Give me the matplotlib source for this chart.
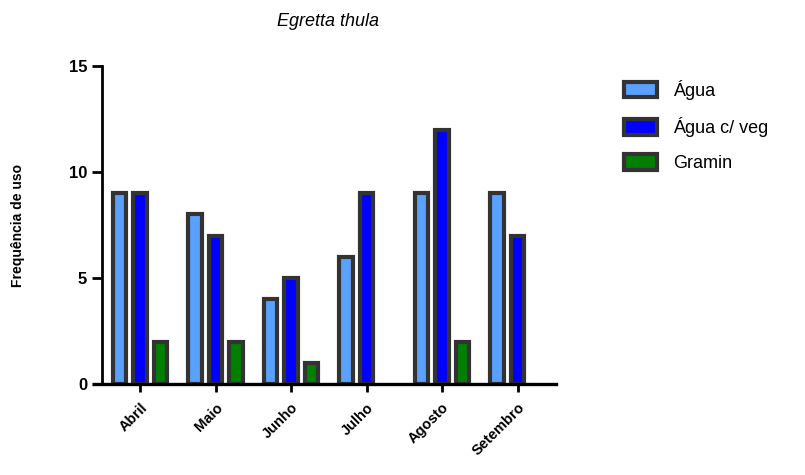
import matplotlib.pyplot as plt
import numpy as np

months = ['Abril', 'Maio', 'Junho', 'Julho', 'Agosto', 'Setembro']
agua = [9, 8, 4, 6, 9, 9]
agua_veg = [9, 7, 5, 9, 12, 7]
gramin = [2, 2, 1, 0, 2, 0]
series_names = ['Água', 'Água c/ veg', 'Gramin']
colors = ['#5aa0ff', '#0000ff', '#007f00']
yticks = [0, 5, 10, 15]

plt.rcParams['font.family'] = ['Liberation Sans', 'DejaVu Sans']

fig = plt.figure(figsize=(8.05, 4.75), dpi=100)
ax = fig.add_axes([0.1168, 0.1916, 0.5739, 0.6694])

# spine placement first: set_position resets the ticks
ax.spines['top'].set_visible(False)
ax.spines['right'].set_visible(False)
ax.spines['left'].set_position(('data', -0.5))
ax.spines['left'].set_linewidth(2)
ax.spines['bottom'].set_linewidth(2.4)

x = np.arange(len(months))
step = 0.272
width = 0.175
for i, (vals, name, c) in enumerate(zip([agua, agua_veg, gramin], series_names, colors)):
    # empty bars get no outline, like the original
    lws = [3 if v > 0 else 0 for v in vals]
    ax.bar(x + (i - 1) * step, vals, width, color=c, edgecolor='#333333',
           linewidth=lws, label=name, zorder=2)

ax.set_xlim(-0.61, 5.51)
ax.set_ylim(0, 15)
ax.set_yticks(yticks, labels=[str(t) for t in yticks], fontweight='bold', fontsize=12)
ax.set_xticks(x, labels=months, rotation=45, ha='right', rotation_mode='anchor',
              fontweight='bold', fontsize=10.5)
ax.tick_params(axis='y', length=7, width=2, pad=4)
ax.tick_params(axis='x', length=6, width=2, pad=6)

ax.set_ylabel('Frequência de uso', fontweight='bold', fontsize=10, labelpad=31)
fig.text(0.408, 0.955, 'Egretta thula', style='italic', fontsize=13,
         ha='center', va='center')

ax.legend(loc='upper left', bbox_to_anchor=(1.128, 0.985), frameon=False,
          fontsize=13, handlelength=1.8, handleheight=0.95, labelspacing=0.95,
          handletextpad=0.9, borderpad=0)

fig.savefig('out.png', dpi=100)
